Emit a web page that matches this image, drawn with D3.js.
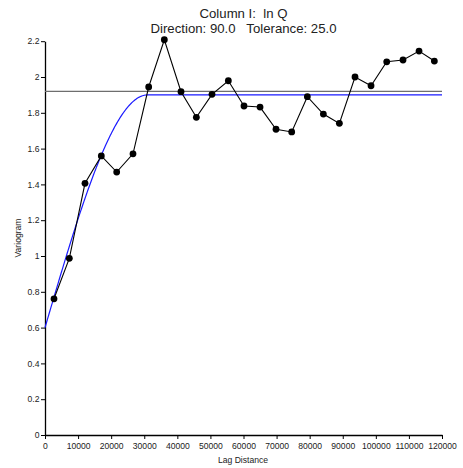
<!DOCTYPE html>
<html>
<head>
<meta charset="utf-8">
<script src="https://cdn.jsdelivr.net/npm/d3@7"></script>
<style>
  html, body { margin: 0; padding: 0; background: #fff; }
  svg { display: block; font-family: "Liberation Sans", Arial, sans-serif; }
  .title { white-space: pre; }
</style>
</head>
<body>
<svg id="chart" width="463" height="468"></svg>
<script>
// Experimental variogram: lag distance and semivariance
const lags = [2720, 7350, 12090, 17020, 21670, 26600, 31340, 36070, 41110, 45750,
              50480, 55420, 60150, 65000, 69830, 74570, 79300, 84140, 88980, 93710,
              98550, 103290, 108220, 113060, 117690];
const gammas = [0.761, 0.987, 1.406, 1.559, 1.469, 1.571, 1.944, 2.208, 1.918, 1.775,
                1.903, 1.979, 1.838, 1.832, 1.708, 1.693, 1.890, 1.793, 1.741, 2.000,
                1.951, 2.085, 2.095, 2.145, 2.089];

// Spherical model parameters and sample variance
const nugget = [0.6];
const sill = [1.9];
const range = [31000];
const sampleVariance = [1.92];

const xTicks = [0, 10000, 20000, 30000, 40000, 50000, 60000, 70000, 80000, 90000, 100000, 110000, 120000];
const yTicks = [0, 0.2, 0.4, 0.6, 0.8, 1, 1.2, 1.4, 1.6, 1.8, 2, 2.2];

const svg = d3.select("#chart");
const plotLeft = 45, plotRight = 442, plotTop = 41.2, plotBottom = 435;

const x = d3.scaleLinear().domain([0, 120000]).range([plotLeft, plotRight]);
const y = d3.scaleLinear().domain([0, 2.2]).range([plotBottom, plotTop]);

// Titles
svg.append("text").attr("class", "title").attr("x", 243.5).attr("y", 18).attr("text-anchor", "middle")
  .attr("font-size", 13.2).attr("fill", "#222").text("Column I:  ln Q");
svg.append("text").attr("class", "title").attr("x", 243.5).attr("y", 32.7).attr("text-anchor", "middle")
  .attr("font-size", 13.2).attr("fill", "#222")
  .text("Direction: 90.0   Tolerance: 25.0");

// Axes
const xAxis = d3.axisBottom(x).tickValues(xTicks).tickSize(4).tickSizeOuter(0)
  .tickFormat(d3.format("d"));
const gx = svg.append("g").attr("transform", `translate(0,${plotBottom})`).call(xAxis);
gx.select(".domain").attr("stroke", "#000").attr("stroke-width", 1.3);
gx.selectAll(".tick line").attr("stroke", "#000");
gx.selectAll(".tick text").attr("font-size", 8.6).attr("fill", "#222")
  .attr("font-family", "Liberation Sans, Arial, sans-serif").attr("dy", "0.71em").attr("y", 8);

const yAxis = d3.axisLeft(y).tickValues(yTicks).tickSize(4).tickSizeOuter(0)
  .tickFormat(d => String(+d.toFixed(1)));
const gy = svg.append("g").attr("transform", `translate(${plotLeft},0)`).call(yAxis);
gy.select(".domain").attr("stroke", "#000").attr("stroke-width", 1.3);
gy.selectAll(".tick line").attr("stroke", "#000");
gy.selectAll(".tick text").attr("font-size", 8.6).attr("fill", "#222")
  .attr("font-family", "Liberation Sans, Arial, sans-serif").attr("x", -5.5);

svg.append("text").attr("x", 243).attr("y", 463).attr("text-anchor", "middle")
  .attr("font-size", 8.6).attr("fill", "#222").text("Lag Distance");
svg.append("text").attr("transform", "translate(21,238) rotate(-90)")
  .attr("text-anchor", "middle").attr("font-size", 8.6).attr("fill", "#222").text("Variogram");

// Sample variance line
svg.append("line").attr("x1", x(0)).attr("x2", x(120000))
  .attr("y1", y(sampleVariance[0])).attr("y2", y(sampleVariance[0]))
  .attr("stroke", "#6e6e6e").attr("stroke-width", 1.3);

// Spherical model curve
function spherical(h) {
  const a = range[0], c0 = nugget[0], c = sill[0] - nugget[0];
  if (h >= a) return c0 + c;
  const r = h / a;
  return c0 + c * (1.5 * r - 0.5 * r * r * r);
}
const modelPts = d3.range(0, 120001, 250).map(h => [h, spherical(h)]);
svg.append("path").datum(modelPts)
  .attr("d", d3.line().x(d => x(d[0])).y(d => y(d[1])))
  .attr("fill", "none").attr("stroke", "#1a1aff").attr("stroke-width", 1.2);

// Experimental variogram
const pts = lags.map((l, i) => [l, gammas[i]]);
svg.append("path").datum(pts)
  .attr("d", d3.line().x(d => x(d[0])).y(d => y(d[1])))
  .attr("fill", "none").attr("stroke", "#000").attr("stroke-width", 1.1);
svg.selectAll("circle.pt").data(pts).enter().append("circle")
  .attr("class", "pt").attr("cx", d => x(d[0])).attr("cy", d => y(d[1]))
  .attr("r", 3.4).attr("fill", "#000");
</script>
</body>
</html>
